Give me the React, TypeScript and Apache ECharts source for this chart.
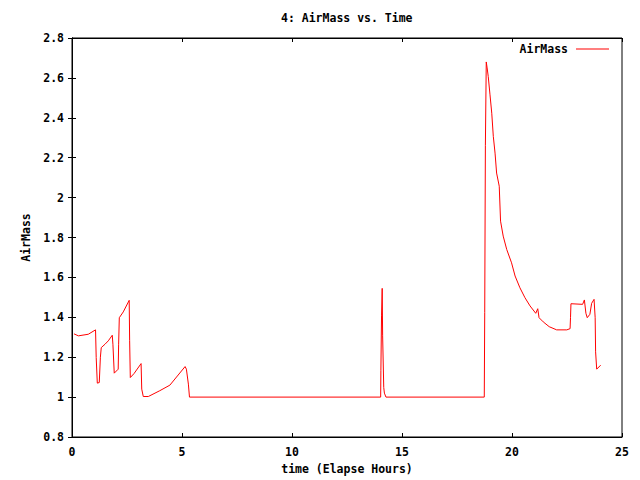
import React, { useEffect, useRef } from "react";
import * as echarts from "echarts";

const times: number[] = [
  0.09, 0.29, 0.74, 1.07, 1.1, 1.15, 1.24, 1.29, 1.33, 1.5, 1.65, 1.83, 1.86, 1.92, 2.1, 2.12, 2.15, 2.33, 2.6,
  2.62, 2.65, 2.82, 3.14, 3.17, 3.24, 3.47, 3.99, 4.45, 5.14, 5.2, 5.29, 5.34,
  14.03, 14.04, 14.07, 14.1, 14.12, 14.17, 14.2, 14.27,
  18.74, 18.76, 18.79, 18.83, 18.87, 18.92, 19.0, 19.08, 19.15, 19.23, 19.3, 19.42, 19.48, 19.6, 19.76, 19.98,
  20.14, 20.36, 20.59, 20.82, 21.08, 21.17, 21.23, 21.42, 21.69, 22.03, 22.49, 22.64, 22.66, 22.68, 23.21,
  23.29, 23.36, 23.42, 23.54, 23.62, 23.73, 23.78, 23.8, 23.85, 24.03,
];
const airMass: number[] = [
  1.317, 1.307, 1.315, 1.337, 1.198, 1.07, 1.073, 1.2, 1.248, 1.265, 1.282, 1.31, 1.265, 1.12, 1.14, 1.265, 1.398,
  1.427, 1.485, 1.285, 1.098, 1.118, 1.168, 1.04, 1.003, 1.003, 1.032, 1.06, 1.153, 1.14, 1.065, 1.0,
  1.0, 1.132, 1.407, 1.545, 1.307, 1.048, 1.02, 1.0,
  1.0, 1.423, 2.26, 2.68, 2.65, 2.607, 2.515, 2.423, 2.307, 2.223, 2.123, 2.057, 1.882, 1.807, 1.74, 1.673,
  1.607, 1.548, 1.498, 1.457, 1.42, 1.443, 1.398, 1.377, 1.353, 1.337, 1.337, 1.343, 1.4, 1.468, 1.465,
  1.487, 1.42, 1.398, 1.415, 1.47, 1.49, 1.398, 1.227, 1.14, 1.16,
];

const titleText = "4: AirMass vs. Time";
const xName = "time (Elapse Hours)";
const yName = "AirMass";
const seriesName = "AirMass";

const FONT = "'DejaVu Sans Mono', monospace";

export default function App() {
  const ref = useRef<HTMLDivElement>(null);
  useEffect(() => {
    if (!ref.current) return;
    const chart = echarts.init(ref.current, undefined, { renderer: "svg" });
    const txt = { fontFamily: FONT, fontSize: 11.5, fontWeight: "bold" as const, color: "#000" };
    const axisCommon = {
      axisLine: { show: true, lineStyle: { color: "#000", width: 1 } },
      axisTick: { show: true, inside: true, length: 4, lineStyle: { color: "#000" } },
      splitLine: { show: false },
    };
    chart.setOption({
      animation: false,
      backgroundColor: "#fff",
      title: {
        text: titleText,
        left: 281,
        top: 12,
        padding: 0,
        textStyle: { ...txt },
      },
      legend: {
        show: true,
        right: 31,
        top: 43,
        padding: 0,
        align: "right",
        icon: "rect",
        itemWidth: 33,
        itemHeight: 1,
        textStyle: { ...txt, padding: [0, 3, 0, 0] },
        data: [seriesName],
      },
      grid: {
        left: 72,
        top: 38,
        width: 550,
        height: 400,
        show: true,
        borderColor: "#000",
        borderWidth: 1,
      },
      xAxis: [
        {
          type: "value",
          min: 0,
          max: 25,
          interval: 5,
          position: "bottom",
          name: xName,
          nameLocation: "middle",
          nameGap: 26,
          nameTextStyle: { ...txt },
          axisLabel: { ...txt, margin: 9 },
          ...axisCommon,
        },
        {
          type: "value",
          min: 0,
          max: 25,
          interval: 5,
          position: "top",
          axisLabel: { show: false },
          ...axisCommon,
        },
      ],
      yAxis: [
        {
          type: "value",
          min: 0.8,
          max: 2.8,
          interval: 0.2,
          position: "left",
          name: yName,
          nameLocation: "middle",
          nameGap: 40,
          nameTextStyle: { ...txt },
          axisLabel: { ...txt, margin: 8 },
          ...axisCommon,
        },
        {
          type: "value",
          min: 0.8,
          max: 2.8,
          interval: 0.2,
          position: "right",
          axisLabel: { show: false },
          ...axisCommon,
        },
      ],
      series: [
        {
          name: seriesName,
          type: "line",
          xAxisIndex: 0,
          yAxisIndex: 0,
          data: times.map((t, i) => [t, airMass[i]]),
          showSymbol: false,
          symbol: "none",
          color: "#ff0000",
          lineStyle: { color: "#ff0000", width: 1 },
        },
      ],
    });
    return () => chart.dispose();
  }, []);
  return <div ref={ref} style={{ width: 640, height: 480, position: "absolute", left: 0, top: 0 }} />;
}
